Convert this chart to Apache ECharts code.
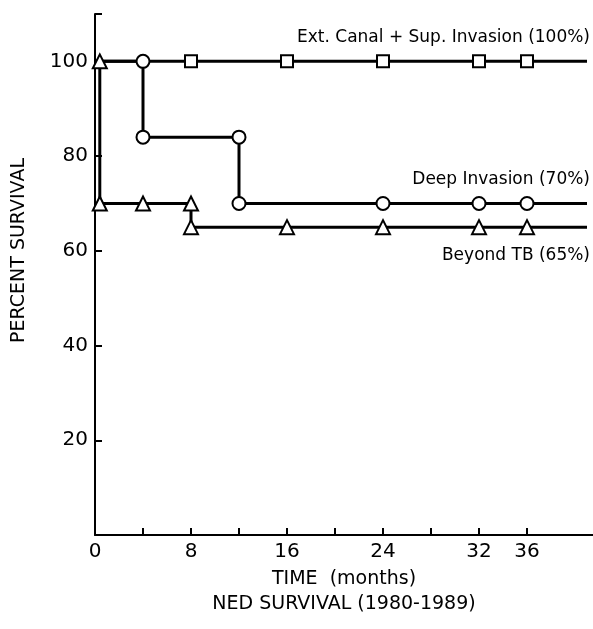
<!DOCTYPE html>
<html>
<head>
<meta charset="utf-8">
<script src="https://cdn.jsdelivr.net/npm/echarts@6/dist/echarts.min.js"></script>
<style>
  html, body { margin: 0; padding: 0; background: #fff; }
  #chart { width: 593px; height: 629px; }
</style>
</head>
<body>
<div id="chart"></div>
<script>
// time in months, survival in percent; marks = whether a symbol is drawn at that point
var extTimes = [0, 8, 16, 24, 32, 36, 41];
var extSurv = [100, 100, 100, 100, 100, 100, 100];
var extMarks = [0, 1, 1, 1, 1, 1, 0];

var deepTimes = [0, 4, 4, 12, 12, 24, 32, 36, 41];
var deepSurv = [100, 100, 84, 84, 70, 70, 70, 70, 70];
var deepMarks = [0, 1, 1, 1, 1, 1, 1, 1, 0];

var beyondTimes = [0.4, 0.4, 4, 8, 8, 16, 24, 32, 36, 41];
var beyondSurv = [100, 70, 70, 70, 65, 65, 65, 65, 65, 65];
var beyondMarks = [1, 1, 1, 1, 1, 1, 1, 1, 1, 0];

var xTicks = [0, 4, 8, 12, 16, 20, 24, 28, 32, 36];
var xLabels = [0, 8, 16, 24, 32, 36];
var yTicks = [20, 40, 60, 80, 100, 110];
var yLabels = [20, 40, 60, 80, 100];

var seriesLabels = ['Ext. Canal + Sup. Invasion (100%)', 'Deep Invasion (70%)', 'Beyond TB (65%)'];

var font = 'DejaVu Sans';

function pts(times, surv, marks) {
  return times.map(function (t, i) {
    var p = { value: [t, surv[i]] };
    if (!marks[i]) p.symbol = 'none';
    return p;
  });
}

function makeSeries(name, times, surv, marks, symbol, size, labelOffset) {
  var last = times.length - 1;
  return {
    name: name,
    type: 'line',
    data: pts(times, surv, marks),
    symbol: symbol,
    symbolSize: size,
    showAllSymbol: true,
    lineStyle: { color: '#000', width: 3 },
    itemStyle: { color: '#fff', borderColor: '#000', borderWidth: 2 },
    z: 3,
    animation: false,
    markPoint: {
      symbol: 'circle',
      symbolSize: 0,
      silent: true,
      data: [{ coord: [times[last], surv[last]] }],
      label: {
        show: true,
        formatter: name,
        position: 'inside',
        align: 'right',
        verticalAlign: 'middle',
        offset: labelOffset,
        color: '#000',
        fontFamily: font,
        fontSize: 17
      }
    }
  };
}

var myChart = echarts.init(document.getElementById('chart'));

var option = {
  backgroundColor: '#fff',
  animation: false,
  grid: { left: 95, right: 0, top: 14, bottom: 94 },
  xAxis: {
    type: 'value',
    min: 0,
    max: 41.5,
    name: 'TIME  (months)\nNED SURVIVAL (1980-1989)',
    nameLocation: 'middle',
    nameGap: 29,
    nameTextStyle: { color: '#000', fontFamily: font, fontSize: 19, lineHeight: 25, verticalAlign: 'top' },
    axisLine: { lineStyle: { color: '#000', width: 2 } },
    axisTick: { inside: true, length: 7, lineStyle: { color: '#000', width: 2 }, customValues: xTicks },
    axisLabel: { color: '#000', fontFamily: font, fontSize: 20, margin: 7, customValues: xLabels },
    splitLine: { show: false }
  },
  yAxis: {
    type: 'value',
    min: 0,
    max: 110,
    name: 'PERCENT SURVIVAL',
    nameLocation: 'middle',
    nameGap: 66,
    nameTextStyle: { color: '#000', fontFamily: font, fontSize: 19, padding: [0, 0, 0, 48] },
    axisLine: { lineStyle: { color: '#000', width: 2 } },
    axisTick: { inside: true, length: 7, lineStyle: { color: '#000', width: 2 }, customValues: yTicks },
    axisLabel: { color: '#000', fontFamily: font, fontSize: 20, margin: 7, customValues: yLabels },
    splitLine: { show: false }
  },
  series: [
    makeSeries(seriesLabels[0], extTimes, extSurv, extMarks, 'rect', 12, [3, -24]),
    makeSeries(seriesLabels[1], deepTimes, deepSurv, deepMarks, 'circle', 13, [3, -24]),
    makeSeries(seriesLabels[2], beyondTimes, beyondSurv, beyondMarks, 'triangle', 14, [3, 28])
  ]
};

myChart.setOption(option);
window.addEventListener('resize', function () {
  myChart.resize();
});
</script>
</body>
</html>
